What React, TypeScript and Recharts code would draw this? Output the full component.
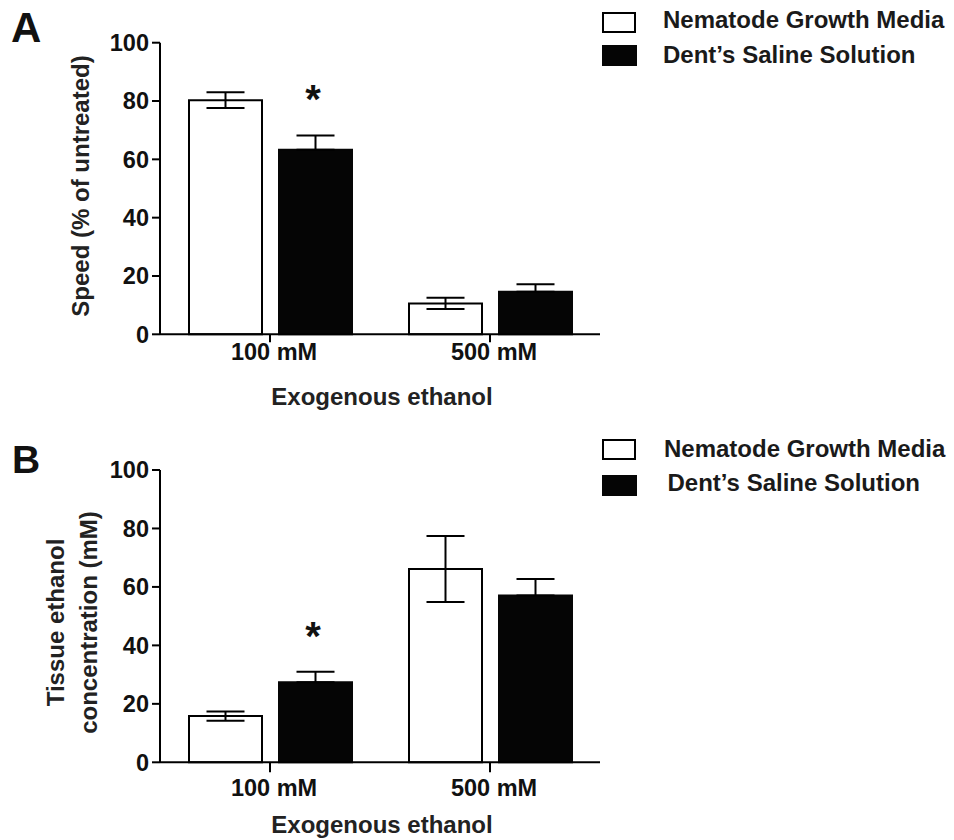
import React from 'react';
import { BarChart, Bar, XAxis, YAxis, ErrorBar, Legend, ReferenceDot, Label } from 'recharts';

const FONT = '"Liberation Sans", Arial, Helvetica, sans-serif';

const categories = ['100 mM', '500 mM'];
const seriesNames = ['Nematode Growth Media', 'Dent\u2019s Saline Solution'];
const seriesFill = ['#ffffff', '#050505'];
const yTicks = [0, 20, 40, 60, 80, 100];
const xTitle = 'Exogenous ethanol';

// Panel A: speed (% of untreated)
const speedNGM = [80.3, 10.6];
const speedNGMErr = [2.7, 1.9];
const speedDSS = [63.3, 14.6];
const speedDSSErr = [4.9, 2.6];
const speedSig = ['*', ''];

// Panel B: tissue ethanol concentration (mM)
const tissueNGM = [15.8, 66.1];
const tissueNGMErr = [1.6, 11.3];
const tissueDSS = [27.4, 57.1];
const tissueDSSErr = [3.6, 5.6];
const tissueSig = ['*', ''];

const build = (ngm: number[], ngmErr: number[], dss: number[], dssErr: number[], sig: string[]) =>
  categories.map((cat, i) => ({ cat, ngm: ngm[i], ngmErr: ngmErr[i], dss: dss[i], dssErr: dssErr[i], sig: sig[i] }));

const dataA = build(speedNGM, speedNGMErr, speedDSS, speedDSSErr, speedSig);
const dataB = build(tissueNGM, tissueNGMErr, tissueDSS, tissueDSSErr, tissueSig);

const BAR_SIZE = 73;
const BAR_GAP = 17;

type Cfg = {
  top: number;
  marginTop: number;
  marginBottom: number;
  xAxisHeight: number;
  xTickSize: number;
  xTickMargin: number;
  yLabel: { text: string; x: number }[];
  yLabelCenter: number;
  legendTop: number;
  legendRows: { boxTop: number; textY: number; textX: number }[];
};

const cfgA: Cfg = {
  top: 0,
  marginTop: 42.7,
  marginBottom: 5.7,
  xAxisHeight: 80,
  xTickSize: 8,
  xTickMargin: 1.5,
  yLabel: [{ text: 'Speed (% of untreated)', x: 89 }],
  yLabelCenter: 186,
  legendTop: 11.5,
  legendRows: [
    { boxTop: 0, textY: 15.5, textX: 61 },
    { boxTop: 33, textY: 51, textX: 61 },
  ],
};

const cfgB: Cfg = {
  top: 420,
  marginTop: 50,
  marginBottom: 5.7,
  xAxisHeight: 72,
  xTickSize: 10,
  xTickMargin: 7.5,
  yLabel: [
    { text: 'Tissue ethanol', x: 64 },
    { text: 'concentration (mM)', x: 97 },
  ],
  yLabelCenter: 202.5,
  legendTop: 18.5,
  legendRows: [
    { boxTop: 0, textY: 18, textX: 62 },
    { boxTop: 36, textY: 52, textX: 65.5 },
  ],
};

const makeLegend = (cfg: Cfg) => (props: any) => {
  const payload = props.payload || [];
  return (
    <svg width={352} height={80} style={{ display: 'block', overflow: 'visible' }}>
      {payload.map((entry: any) => {
        const i = Math.max(0, seriesNames.indexOf(entry.value));
        const row = cfg.legendRows[i];
        const filled = seriesFill[i] !== '#ffffff';
        return (
          <g key={i}>
            {filled ? (
              <rect x={0} y={row.boxTop} width={35} height={21} fill={seriesFill[i]} />
            ) : (
              <rect x={1} y={row.boxTop + 1} width={32} height={19} fill="#fff" stroke="#000" strokeWidth={2} />
            )}
            <text x={row.textX} y={row.textY} fontFamily={FONT} fontWeight="bold" fontSize={24} fill="#1a1a1a">
              {entry.value}
            </text>
          </g>
        );
      })}
    </svg>
  );
};

function Panel({ data, cfg }: { data: any[]; cfg: Cfg }) {
  const W = 954;
  const H = 420;
  return (
    <div style={{ position: 'absolute', left: 0, top: cfg.top, width: W, height: H }}>
      <BarChart
        width={W}
        height={H}
        data={data}
        margin={{ top: cfg.marginTop, right: 354, bottom: cfg.marginBottom, left: 10 }}
        barSize={BAR_SIZE}
        barGap={BAR_GAP}
      >
        <XAxis
          dataKey="cat"
          height={cfg.xAxisHeight}
          axisLine={{ stroke: '#000', strokeWidth: 2 }}
          tickLine={{ stroke: '#000', strokeWidth: 2 }}
          tickSize={cfg.xTickSize}
          tickMargin={cfg.xTickMargin}
          tick={{ fontSize: 23.5, fontWeight: 'bold', fill: '#111', fontFamily: FONT, dx: 4 } as any}
        >
          <Label
            content={(p: any) => {
              const vb = p.viewBox || {};
              return (
                <text
                  x={vb.x + vb.width / 2 + 2}
                  y={vb.y + 71}
                  textAnchor="middle"
                  fontFamily={FONT}
                  fontWeight="bold"
                  fontSize={24}
                  fill="#222"
                >
                  {xTitle}
                </text>
              );
            }}
          />
        </XAxis>
        <YAxis
          type="number"
          domain={[0, 100]}
          ticks={yTicks}
          width={150}
          axisLine={{ stroke: '#000', strokeWidth: 2 }}
          tickLine={{ stroke: '#000', strokeWidth: 2 }}
          tickSize={8}
          tickMargin={3}
          interval={0}
          tick={{ fontSize: 23.5, fontWeight: 'bold', fill: '#111', fontFamily: FONT } as any}
        >
          <Label
            content={() => (
              <g>
                {cfg.yLabel.map((l, i) => (
                  <text
                    key={i}
                    x={l.x}
                    y={cfg.yLabelCenter}
                    transform={`rotate(-90 ${l.x} ${cfg.yLabelCenter})`}
                    textAnchor="middle"
                    fontFamily={FONT}
                    fontWeight="bold"
                    fontSize={24}
                    fill="#222"
                  >
                    {l.text}
                  </text>
                ))}
              </g>
            )}
          />
        </YAxis>
        <Legend
          layout="vertical"
          align="center"
          verticalAlign="middle"
          wrapperStyle={{ left: 602, top: cfg.legendTop, width: 352, height: 80 }}
          content={makeLegend(cfg)}
        />
        <Bar dataKey="ngm" name={seriesNames[0]} fill={seriesFill[0]} stroke="#000" strokeWidth={2} isAnimationActive={false}>
          <ErrorBar dataKey="ngmErr" width={19} stroke="#000" strokeWidth={2} direction="y" />
        </Bar>
        <Bar dataKey="dss" name={seriesNames[1]} fill={seriesFill[1]} stroke={seriesFill[1]} strokeWidth={2} isAnimationActive={false}>
          <ErrorBar dataKey={(d: any) => [0, d.dssErr]} width={19} stroke="#000" strokeWidth={2} direction="y" />
        </Bar>
        {data
          .filter((d) => d.sig)
          .map((d) => (
            <ReferenceDot
              key={d.cat}
              x={d.cat}
              y={d.dss + d.dssErr}
              r={1}
              isFront
              shape={(p: any) => (
                <text
                  x={p.cx + (BAR_GAP + BAR_SIZE) / 2 - 2}
                  y={p.cy - 22}
                  textAnchor="middle"
                  fontFamily={FONT}
                  fontWeight="bold"
                  fontSize={40}
                  fill="#111"
                >
                  {d.sig}
                </text>
              )}
            />
          ))}
      </BarChart>
    </div>
  );
}

export default function App() {
  return (
    <div style={{ position: 'absolute', left: 0, top: 0, width: 954, height: 840, background: '#fff', fontFamily: FONT }}>
      <Panel data={dataA} cfg={cfgA} />
      <Panel data={dataB} cfg={cfgB} />
      <svg width={954} height={840} style={{ position: 'absolute', left: 0, top: 0, pointerEvents: 'none' }}>
        <text x={11} y={41.7} fontFamily={FONT} fontWeight="bold" fontSize={42} fill="#111">A</text>
        <text x={12} y={473} fontFamily={FONT} fontWeight="bold" fontSize={39} fill="#111">B</text>
      </svg>
    </div>
  );
}
